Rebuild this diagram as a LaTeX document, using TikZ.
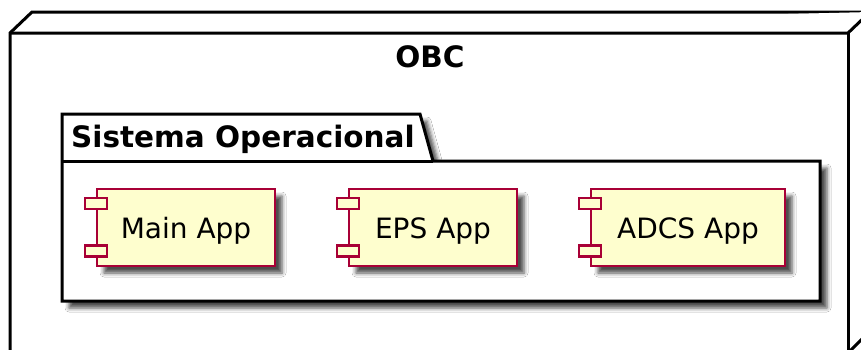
\documentclass[tikz,border=0pt]{standalone}
\usepackage{fontspec}
\setmainfont{DejaVu Sans}
\usetikzlibrary{positioning,shadows.blur}

\definecolor{compfill}{HTML}{FEFECE}
\definecolor{compline}{HTML}{A80036}

\tikzset{
  shade/.style={blur shadow={shadow xshift=7pt,shadow yshift=-7pt,shadow blur radius=4pt,shadow opacity=70}},
  nodebox/.style={draw=black,line width=3pt,fill=white,line join=miter},
  pkg/.style={draw=black,line width=3pt,fill=white,shade},
  comp/.style={draw=compline,line width=2.5pt,fill=compfill,shade,
    minimum height=77pt,inner sep=0pt,text height=21pt,text depth=0pt,
    font=\fontsize{28}{34}\selectfont},
  plug/.style={draw=compline,line width=2.5pt,fill=compfill},
  title/.style={font=\bfseries\fontsize{29.5}{35}\selectfont,inner sep=0pt,anchor=base}
}

\begin{document}
\begin{tikzpicture}[x=1pt,y=-1pt]
  \useasboundingbox (0,0) rectangle (861,349);

  \draw[nodebox] (10,33) -- (32,12) -- (870,12) -- (870,331) -- (848,353) -- (10,353) -- cycle;
  \draw[nodebox] (10,33) -- (848,33) -- (870,12);
  \draw[nodebox] (848,33) -- (848,353);
  \node[title] (obc) at (430,67) {OBC};

  \draw[pkg] (62,161) -- (62,114) -- (420,114) -- (433,161) -- (820,161) -- (820,301) -- (62,301) -- cycle;
  \draw[line width=3pt] (62,161) -- (433,161);
  \node[title,anchor=base west] (so) at (71,147) {Sistema Operacional};

  \node[comp,minimum width=178pt] (mainapp) at (186,227.5) {Main App};
  \node[comp,minimum width=168pt,right=71.5pt of mainapp] (epsapp) {EPS App};
  \node[comp,minimum width=194pt,right=71.5pt of epsapp] (adcsapp) {ADCS App};

  \foreach \c in {mainapp,epsapp,adcsapp}{
    \draw[plug] ([shift={(-11pt,-10pt)}]\c.north west) rectangle ++(22pt,-11pt);
    \draw[plug] ([shift={(-11pt,11pt)}]\c.south west) rectangle ++(22pt,11pt);
  }
\end{tikzpicture}
\end{document}
